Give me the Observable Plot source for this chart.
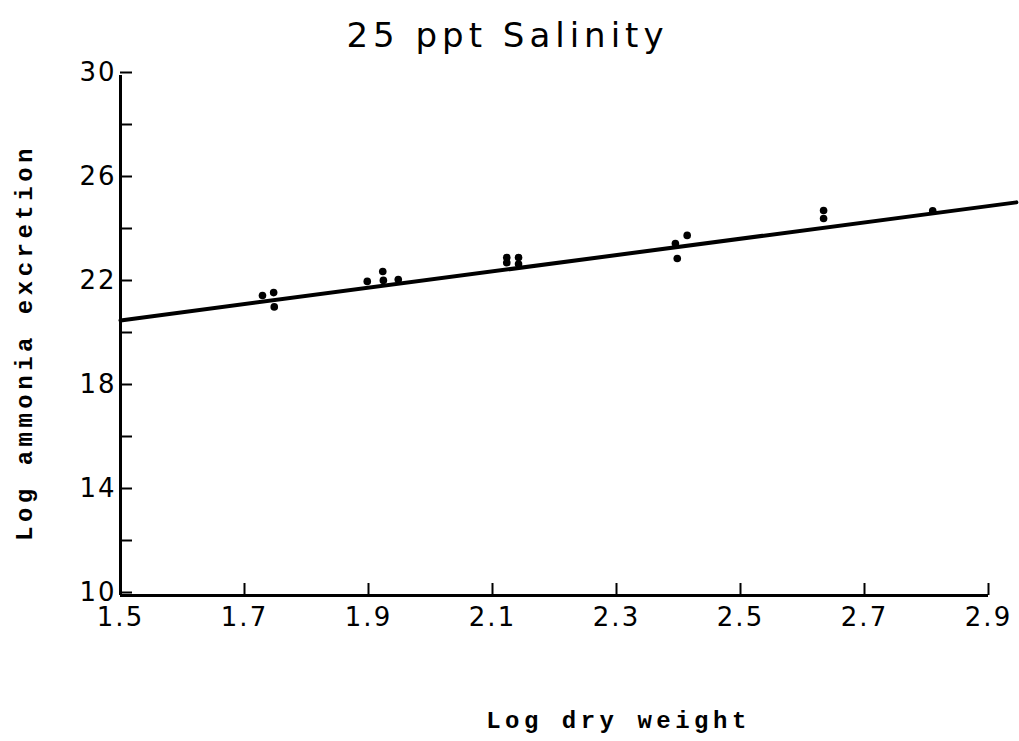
<!DOCTYPE html>
<html><head><meta charset="utf-8">
<script src="https://cdn.jsdelivr.net/npm/d3@7"></script>
<script src="https://cdn.jsdelivr.net/npm/@observablehq/plot@0.6"></script>
<style>
body{margin:0;background:#fff;}
#chart svg{display:block;}
#chart g[aria-label="x-axis tick label"] text,
#chart g[aria-label="y-axis tick label"] text{letter-spacing:2px;}
</style>
</head><body><div id="chart"></div>
<script>
const title = "25 ppt Salinity";
const xLabel = "Log dry weight";
const yLabel = "Log ammonia excretion";
const xTicks = [1.5, 1.7, 1.9, 2.1, 2.3, 2.5, 2.7, 2.9];
const yTicks = [10, 12, 14, 16, 18, 20, 22, 24, 26, 28, 30];
const yTickLabels = [10, 14, 18, 22, 26, 30];
const pointX = [1.729, 1.747, 1.748, 1.898, 1.923, 1.924, 1.948, 2.123, 2.123, 2.142, 2.142, 2.395, 2.414, 2.398, 2.634, 2.634, 2.81];
const pointY = [21.54, 21.65, 21.10, 22.08, 22.46, 22.12, 22.15, 23.00, 22.80, 23.00, 22.75, 23.54, 23.85, 22.96, 24.81, 24.50, 24.80];
const fitX = [1.5, 2.945];
const fitY = [20.58, 25.12];

const points = pointX.map((x, i) => ({x, y: pointY[i]}));
const fit = fitX.map((x, i) => ({x, y: fitY[i]}));

const chart = Plot.plot({
  width: 1019,
  height: 741,
  marginLeft: 120,
  marginRight: 31,
  marginTop: 75,
  marginBottom: 146,
  style: {fontFamily: "'DejaVu Sans', sans-serif", fontSize: "26px", color: "black", background: "white"},
  x: {domain: [1.5, 2.9]},
  y: {domain: [10, 30]},
  marks: [
    Plot.axisX(xTicks, {tickSize: -12, tickPadding: 24, tickFormat: d3.format(".1f"), strokeWidth: 2, label: null, fontSize: 26}),
    Plot.axisY(yTicks, {tickSize: -12, tickPadding: 16, dy: -3, tickFormat: d => yTickLabels.includes(d) ? String(d) : "", strokeWidth: 2, label: null, fontSize: 26}),
    Plot.ruleY([10], {stroke: "black", strokeWidth: 3}),
    Plot.ruleX([1.5], {stroke: "black", strokeWidth: 3}),
    Plot.line(fit, {x: "x", y: "y", stroke: "black", strokeWidth: 4, clip: false}),
    Plot.dot(points, {x: "x", y: "y", r: 3.8, fill: "black"}),
    Plot.text([title], {frameAnchor: "top", dx: -47, dy: -53, fontSize: 34, fontFamily: "'DejaVu Sans', sans-serif", fill: "black"}),
    Plot.text([xLabel], {frameAnchor: "bottom", dx: 64, dy: 132, fontSize: 24, fontWeight: "bold", fontFamily: "'Liberation Mono', 'DejaVu Sans Mono', monospace", fill: "black"}),
    Plot.text([yLabel], {frameAnchor: "left", textAnchor: "middle", rotate: -90, dx: -96, dy: 7, fontSize: 24, fontWeight: "bold", fontFamily: "'Liberation Mono', 'DejaVu Sans Mono', monospace", fill: "black"})
  ]
});
const spacing = {[title]: "5px", [xLabel]: "4.5px", [yLabel]: "4.5px"};
chart.querySelectorAll("text").forEach(t => {
  if (spacing[t.textContent]) t.style.letterSpacing = spacing[t.textContent];
});
document.getElementById("chart").appendChild(chart);
</script>
</body></html>
